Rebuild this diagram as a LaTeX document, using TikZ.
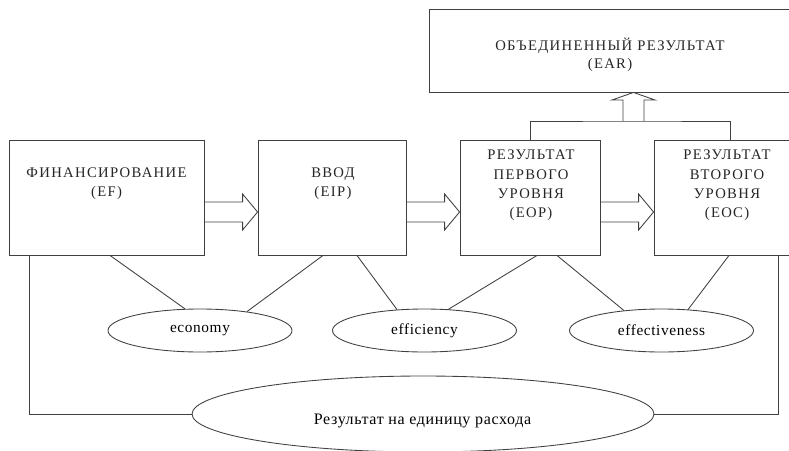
\documentclass[tikz,border=0pt]{standalone}
\usepackage{fontspec}
\setmainfont{Liberation Serif}
\newfontfamily\capsfont[LetterSpace=9]{Liberation Serif}
\newfontfamily\lowfont[LetterSpace=4]{Liberation Serif}
\usetikzlibrary{calc,shapes.geometric}

\begin{document}
\begin{tikzpicture}[x=0.75pt,y=0.75pt,yscale=-1,xscale=1,
    line/.style={draw=black!75,line width=0.65pt},
    box/.style={line,rectangle,inner sep=0pt,minimum height=86.25pt},
    oval/.style={line,ellipse,inner sep=0pt,minimum width=138pt,minimum height=32.25pt,font=\lowfont\fontsize{11.5}{13}\selectfont},
    caps/.style={align=center,inner sep=0pt,font=\capsfont\fontsize{11}{14.5}\selectfont,text=black!85}]
\useasboundingbox (0,0) rectangle (789,450);

%Shape: Rectangles
\node [box,minimum width=271.5pt,minimum height=62.25pt] (ear) at (610,50.5) {};
\node [box,minimum width=146.25pt] (ef) at (106.5,197.5) {};
\node [box,minimum width=111pt] (eip) at (332,197.5) {};
\node [box,minimum width=105pt] (eop) at (530,197.5) {};
\node [box,minimum width=103.5pt] (eoc) at (723,197.5) {};

% Text Node
\node [caps,font=\capsfont\fontsize{11}{13.5}\selectfont] (ear-t) at (610,55) {ОБЪЕДИНЕННЫЙ РЕЗУЛЬТАТ\\(EAR)};
% Text Node
\node [caps] (ef-t) at (106.5,184) {ФИНАНСИРОВАНИЕ\\(EF)};
% Text Node
\node [caps] (eip-t) at (333,184) {ВВОД\\(EIP)};
% Text Node
\node [caps] (eop-t) at (531,185.5) {РЕЗУЛЬТАТ\\ПЕРВОГО\\УРОВНЯ\\(EOP)};
% Text Node
\node [caps] (eoc-t) at (727,185.5) {РЕЗУЛЬТАТ\\ВТОРОГО\\УРОВНЯ\\(EOC)};

%Block arrows between the boxes
\foreach \a/\b in {ef/eip,eip/eop,eop/eoc}{
  \draw [line] ($(\a.east)+(0,4.5)$) -- ($(\b.west)+(-15,4.5)$) -- ($(\b.west)+(-15,-3.5)$) -- ($(\b.west)+(0,14.5)$) -- ($(\b.west)+(-15,32.5)$) -- ($(\b.west)+(-15,24.5)$) -- ($(\a.east)+(0,24.5)$);
}

%Joint line and arrow up
\coordinate (join) at (633.5,121);
\coordinate (eoc-top) at ($(eoc.north)+(7,0)$);
\draw [line] (eop.north) |- (join) -| (eoc-top);
\draw [line] ($(join)+(-10.5,0)$) -- ($(join)+(-10.5,-21)$) -- ($(join)+(-21.5,-21)$) -- (join |- ear.south) -- ($(join)+(21.5,-21)$) -- ($(join)+(10.5,-21)$) -- ($(join)+(10.5,0)$);

%Shape: Ellipses
\node [oval] (econ) at (200,330.5) {economy};
\node [oval] (effic) at (424.5,330.5) {efficiency};
\node [oval] (effect) at (661.5,330.5) {effectiveness};
\node [oval,minimum width=346.5pt,minimum height=57pt] (unit) at (423,414) {};
% Text Node
\node [inner sep=0pt,font=\lowfont\fontsize{12}{14}\selectfont] (unit-t) at (422.5,421) {Результат на единицу расхода};

%Straight Lines
\draw [line] ($(ef.south)+(3.5,0)$) -- ($(econ.north)+(-15,0.3)$);
\draw [line] ($(eip.south)+(-9,0)$) -- ($(econ.north)+(47,3)$);
\draw [line] ($(eip.south)+(25,0)$) -- ($(effic.north)+(-27.5,1)$);
\draw [line] ($(eop.south)+(7,0)$) -- ($(effic.north)+(23.5,1)$);
\draw [line] ($(eop.south)+(27,0)$) -- ($(effect.north)+(-37.5,2)$);
\draw [line] ($(eoc.south)+(6,0)$) -- ($(effect.north)+(26.5,1)$);
\draw [line] ($(ef.south west)+(21,0)$) |- (unit.west);
\draw [line] ($(eoc.south west)+(125,0)$) |- (unit.east);

\end{tikzpicture}
\end{document}
